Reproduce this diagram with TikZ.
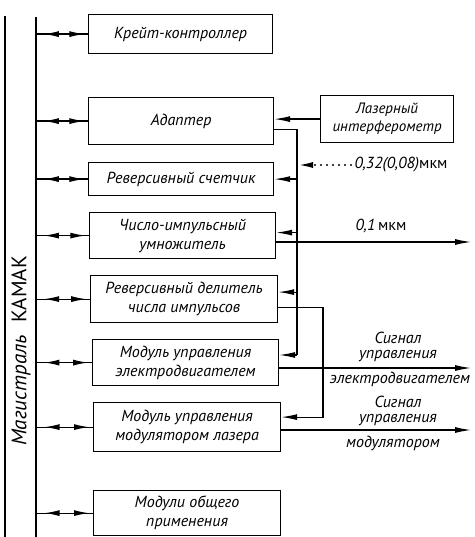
\documentclass[tikz,border=0pt]{standalone}
\usepackage{fontspec}
\setmainfont{PT Sans}
\usetikzlibrary{arrows.meta,decorations.markings}

\begin{document}
\begin{tikzpicture}[x=1pt,y=-1pt,
    every node/.style={font=\fontsize{16}{19}\selectfont\itshape},
    module/.style={draw, line width=1.2pt, anchor=north west, align=center, inner sep=2pt},
    busline/.style={line width=1.2pt, postaction={decorate}, decoration={markings,
        mark=at position 0.15 with {\arrowreversed{Latex[length=15pt,width=6pt]}},
        mark=at position 0.93 with {\arrow{Latex[length=15pt,width=6pt]}}}},
    sigline/.style={line width=1.2pt, -{Latex[length=16pt,width=6pt]}},
    dotline/.style={line width=2.2pt, line cap=round, dash pattern=on 0pt off 6pt,
        -{Latex[length=16pt,width=6pt]}},
    label/.style={align=center, font=\fontsize{16}{15}\selectfont\itshape}]
\useasboundingbox (0,0) rectangle (474,537);

% Macro for module on the bus
\newcommand{\camacmod}[6]{
    \node[module, minimum width=#4pt, minimum height=#5pt] (#1) at (#2,#3) {#6};
    \draw[busline] (bus |- #1.west) -- (#1.west);
}

% Bus
\coordinate (bus) at (36,17);
\draw[line width=1.2pt] (5,16) -- (5,537);
\draw[line width=1.3pt] (bus) -- (36,537);
\node[rotate=90, font=\fontsize{21}{24}\selectfont\itshape] (buslabel) at (21,351)
    {Магистраль\hspace{12pt}\textup{КАМАК}};

% Modules
\camacmod{ctl}{88}{14}{184}{39}{Крейт-контроллер}
\camacmod{adp}{88}{97}{185}{47}{Адаптер}
\camacmod{cnt}{88}{162}{185}{33}{Реверсивный счетчик}
\camacmod{mul}{89}{212}{186}{46}{Число-импульсный\\умножитель}
\camacmod{div}{90}{275}{187}{47}{Реверсивный делитель\\числа импульсов}
\camacmod{mdm}{92}{339}{186}{46}{Модуль управления\\электродвигателем}
\camacmod{mla}{93}{402}{187}{49}{Модуль управления\\модулятором лазера}
\camacmod{gen}{93}{490}{187}{45}{Модули общего\\применения}

% Interferometer
\node[module, minimum width=133pt, minimum height=47pt, font=\fontsize{15}{18}\selectfont\itshape]
    (ifm) at (320,95) {Лазерный\\интерферометр};
\draw[sigline] (ifm.west) -- (ifm.west -| adp.east);

% Distribution line
\coordinate (dtop) at (297,129.5);
\coordinate (dbot) at (297,355);
\coordinate (mulin) at ([yshift=3pt]mul.east);
\coordinate (divin) at ([yshift=7pt]div.east);
\draw[line width=1.2pt] (adp.east |- dtop) -- (dtop) -- (dbot);
\draw[sigline] (cnt.east -| dtop) -- (cnt.east);
\draw[sigline] (mulin -| dtop) -- (mulin);
\draw[sigline] (divin -| dtop) -- (divin);
\draw[sigline] (dbot) -- (dbot -| mdm.east);

% Input pulses
\node (inp) at (401,165) {0,32(0,08)\textup{мкм}};
\draw[dotline] (inp.west) -- (inp.west -| dtop);

% Outputs
\coordinate (o1) at (471,242);
\coordinate (o2) at (471,368);
\coordinate (o3) at (471,430);
\draw[sigline] (o1 -| mul.east) -- (o1);
\draw[sigline] (o2 -| mdm.east) -- (o2);
\draw[sigline] (o3 -| mla.east) -- (o3);
\node (l1) at (381,226) {0,1\,\textup{мкм}};
\node[label] (l2) at (398,347) {Сигнал\\управления};
\node (l3) at (400,379) {электродвигателем};
\node[label] (l4) at (398,411) {Сигнал\\управления};
\node (l5) at (393,443) {модулятором};

% Divider to laser modulator
\coordinate (dvo) at ([yshift=-8pt]div.east);
\coordinate (mlin) at ([yshift=10pt]mla.east);
\coordinate (jn) at (323,0);
\draw[sigline] (dvo) -| (jn |- mlin) -- (mlin);

\end{tikzpicture}
\end{document}
